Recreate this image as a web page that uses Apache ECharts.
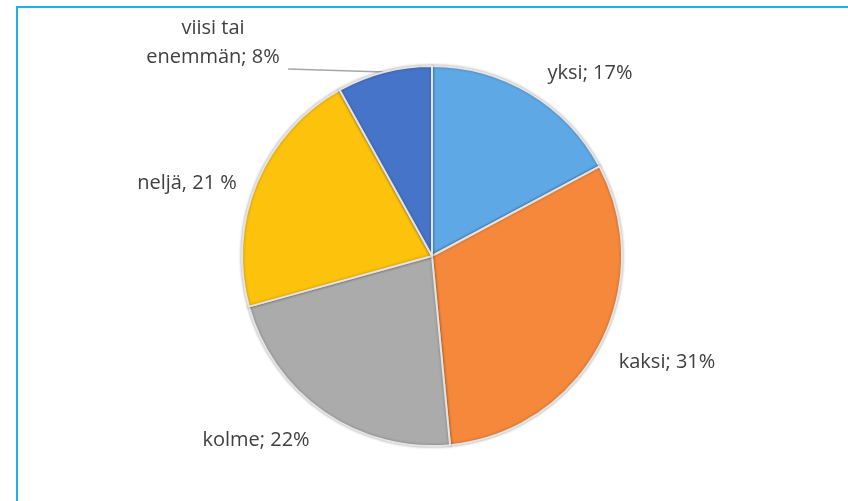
<!DOCTYPE html>
<html>
<head>
<meta charset="utf-8">
<script src="https://cdn.jsdelivr.net/npm/echarts@6/dist/echarts.min.js"></script>
<style>
  html, body { margin: 0; padding: 0; background: #fff; }
  #chart { width: 848px; height: 501px; }
</style>
</head>
<body>
<div id="chart"></div>
<script>
const names = ['yksi', 'kaksi', 'kolme', 'neljä', 'viisi tai enemmän'];
const values = [17, 31, 22, 21, 8];
const labelTexts = ['yksi; 17%', 'kaksi; 31%', 'kolme; 22%', 'neljä, 21 %', 'viisi tai\nenemmän; 8%'];

const colors = ['#5fa8e6', '#f5883a', '#ababab', '#fdc20c', '#4674c8'];
// label centres, layout only
const labelPos = [[590, 73], [667, 362], [256, 440], [187, 183], [213, 43]];
const center = [432, 256];
const radius = 190;

// where the leader line of a slice leaves the pie edge
function edgePoint(i) {
    const total = values.reduce((a, b) => a + b, 0);
    let before = 0;
    for (let k = 0; k < i; k++) before += values[k];
    const ang = (before + values[i] / 2) / total * Math.PI * 2;
    return [center[0] + radius * Math.sin(ang), center[1] - radius * Math.cos(ang)];
}

const chart = echarts.init(document.getElementById('chart'), null, {renderer: 'canvas'});
chart.setOption({
    animation: false,
    backgroundColor: '#fff',
    graphic: [{
        type: 'rect',
        shape: {x: 17, y: 7, width: 860, height: 520},
        style: {fill: 'none', stroke: '#1eb0ec', lineWidth: 2}
    }],
    series: [{
        type: 'pie',
        center: center,
        radius: radius,
        startAngle: 90,
        clockwise: true,
        data: names.map((n, i) => ({
            name: n,
            value: values[i],
            itemStyle: {color: colors[i]},
            labelLine: {show: i === 4}
        })),
        itemStyle: {
            borderColor: '#e4e4e4',
            borderWidth: 2,
            shadowBlur: 3,
            shadowColor: 'rgba(0,0,0,0.3)'
        },
        label: {
            show: true,
            position: 'outside',
            formatter: p => labelTexts[p.dataIndex],
            fontFamily: 'Open Sans',
            fontSize: 20,
            color: '#404040',
            lineHeight: 29,
            align: 'center'
        },
        labelLine: {
            length: 10,
            length2: 60,
            lineStyle: {color: '#a6a6a6', width: 1.5}
        },
        labelLayout: p => {
            const out = {
                x: labelPos[p.dataIndex][0],
                y: labelPos[p.dataIndex][1],
                align: 'center',
                verticalAlign: 'middle'
            };
            if (p.dataIndex === 4) {
                out.labelLinePoints = [edgePoint(4), [288, 69]];
            }
            return out;
        },
        emphasis: {disabled: true}
    }]
});
</script>
</body>
</html>
